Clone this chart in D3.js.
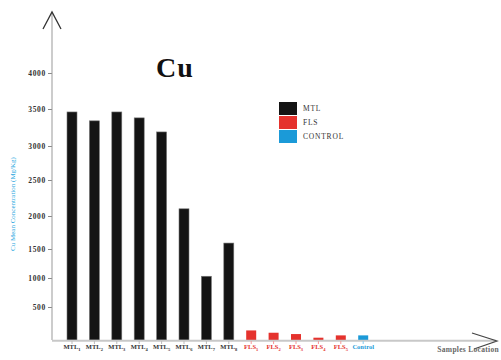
<!DOCTYPE html>
<html><head><meta charset="utf-8">
<script src="https://cdn.jsdelivr.net/npm/d3@7"></script>
<style>body{margin:0;background:#fff}svg{display:block}</style>
</head><body><svg id="c" width="501" height="360"></svg>
<script>
const categories = ["MTL1","MTL2","MTL3","MTL4","MTL5","MTL6","MTL7","MTL8","FLS1","FLS2","FLS3","FLS4","FLS5","Control"];
const groups = ["MTL","MTL","MTL","MTL","MTL","MTL","MTL","MTL","FLS","FLS","FLS","FLS","FLS","CONTROL"];
const values = [3460,3340,3460,3380,3190,2100,1030,1590,145,110,90,35,70,70];
const tickValues = [500,1000,1500,2000,2500,3000,3500,4000];
const legendLabels = ["MTL","FLS","CONTROL"];
const colors = {MTL:"#141414", FLS:"#e5322d", CONTROL:"#1b9ad8"};
const labelColors = {MTL:"#333", FLS:"#e5322d", CONTROL:"#1b9ad8"};

const svg = d3.select("#c");
const x = d3.scaleBand().domain(categories).range([60.8, 374.4]).paddingInner(0.554).paddingOuter(0.277);
// hand-drawn axis in the original: tick spacing is uneven, so use a piecewise linear scale
const y = d3.scaleLinear().domain([0,500,1000,1500,2000,2500,3000,3500,4000]).range([340,307,278,249,216,180,146,109,73]);

// bars
svg.selectAll("rect.bar").data(values).join("rect")
  .attr("x",(d,i)=>x(categories[i])).attr("width",x.bandwidth())
  .attr("y",d=>y(d)).attr("height",d=>y(0)-y(d))
  .attr("fill",(d,i)=>colors[groups[i]])
  .attr("stroke",(d,i)=>groups[i]==="MTL"?"#777":"none").attr("stroke-width",0.6);

// y axis
const axisX = 52;
const ya = svg.append("g").attr("transform",`translate(${axisX},0)`)
  .call(d3.axisLeft(y).tickValues(tickValues).tickSize(4).tickPadding(2).tickFormat(d3.format("d")));
ya.select(".domain").remove();
ya.selectAll(".tick line").attr("stroke","#888");
ya.selectAll(".tick text").attr("fill","#333").style("font-family","Liberation Serif").style("font-weight","bold").style("font-size","7.5px").style("letter-spacing","0.7px");
svg.append("line").attr("x1",axisX).attr("x2",axisX).attr("y1",13).attr("y2",y(0)).attr("stroke","#999").attr("stroke-width",1);
svg.append("path").attr("d",`M${axisX-9},29L${axisX},12L${axisX+9},29`).attr("fill","none").attr("stroke","#333").attr("stroke-width",1.3);

// x axis
svg.append("line").attr("x1",axisX).attr("x2",496).attr("y1",y(0)+0.8).attr("y2",y(0)+0.8).attr("stroke","#c8c8c8").attr("stroke-width",2);
svg.append("path").attr("d",`M472,333L497,341L474,349`).attr("fill","none").attr("stroke","#444").attr("stroke-width",1.2);
const xa = svg.append("g").attr("transform",`translate(0,${y(0)+1})`)
  .call(d3.axisBottom(x).tickSize(3).tickPadding(2).tickFormat(()=>""));
xa.select(".domain").remove();
xa.selectAll(".tick line").attr("stroke",(d,i)=>groups[i]==="MTL"?"#bbb":(groups[i]==="FLS"?"#f39a98":"#8cc8ee"));
// x labels with subscripts
const lab = svg.selectAll("text.xl").data(categories).join("text")
  .attr("x",d=>x(d)+x.bandwidth()/2).attr("y",349).attr("text-anchor","middle")
  .attr("fill",(d,i)=>labelColors[groups[i]])
  .style("font-family","Liberation Serif").style("font-weight","bold").style("font-size","6.5px");
lab.each(function(d,i){
  const t = d3.select(this);
  if(groups[i]==="CONTROL"){ t.text(d); return; }
  const m = d.match(/^([A-Z]+)(\d+)$/);
  t.append("tspan").text(m[1]);
  t.append("tspan").attr("dy",1.5).style("font-size","4.5px").text(m[2]);
});
svg.append("text").attr("x",499).attr("y",352).attr("text-anchor","end").attr("fill","#666")
  .style("font-family","Liberation Serif").style("font-weight","bold").style("font-size","7.5px").style("letter-spacing","0.3px").text("Samples Location");

// y label
svg.append("text").attr("transform","translate(15,204) rotate(-90)").attr("text-anchor","middle")
  .attr("fill","#2aa7e0").style("font-family","Liberation Serif").style("font-size","7px")
  .text("Cu  Mean Concentration (Mg/Kg)");

// title
svg.append("text").attr("x",175).attr("y",77).attr("text-anchor","middle").attr("fill","#111")
  .style("font-family","Liberation Serif").style("font-weight","bold").style("font-size","28px").style("letter-spacing","1px").text("Cu");

// legend
const lg = svg.selectAll("g.lg").data(legendLabels).join("g").attr("transform",(d,i)=>`translate(279,${102+i*14})`);
lg.append("rect").attr("width",18).attr("height",13).attr("fill",d=>colors[d]);
lg.append("text").attr("x",24).attr("y",9).attr("fill","#333")
  .style("font-family","Liberation Serif").style("font-size","7.5px").style("letter-spacing","0.8px").text(d=>d);
</script></body></html>
